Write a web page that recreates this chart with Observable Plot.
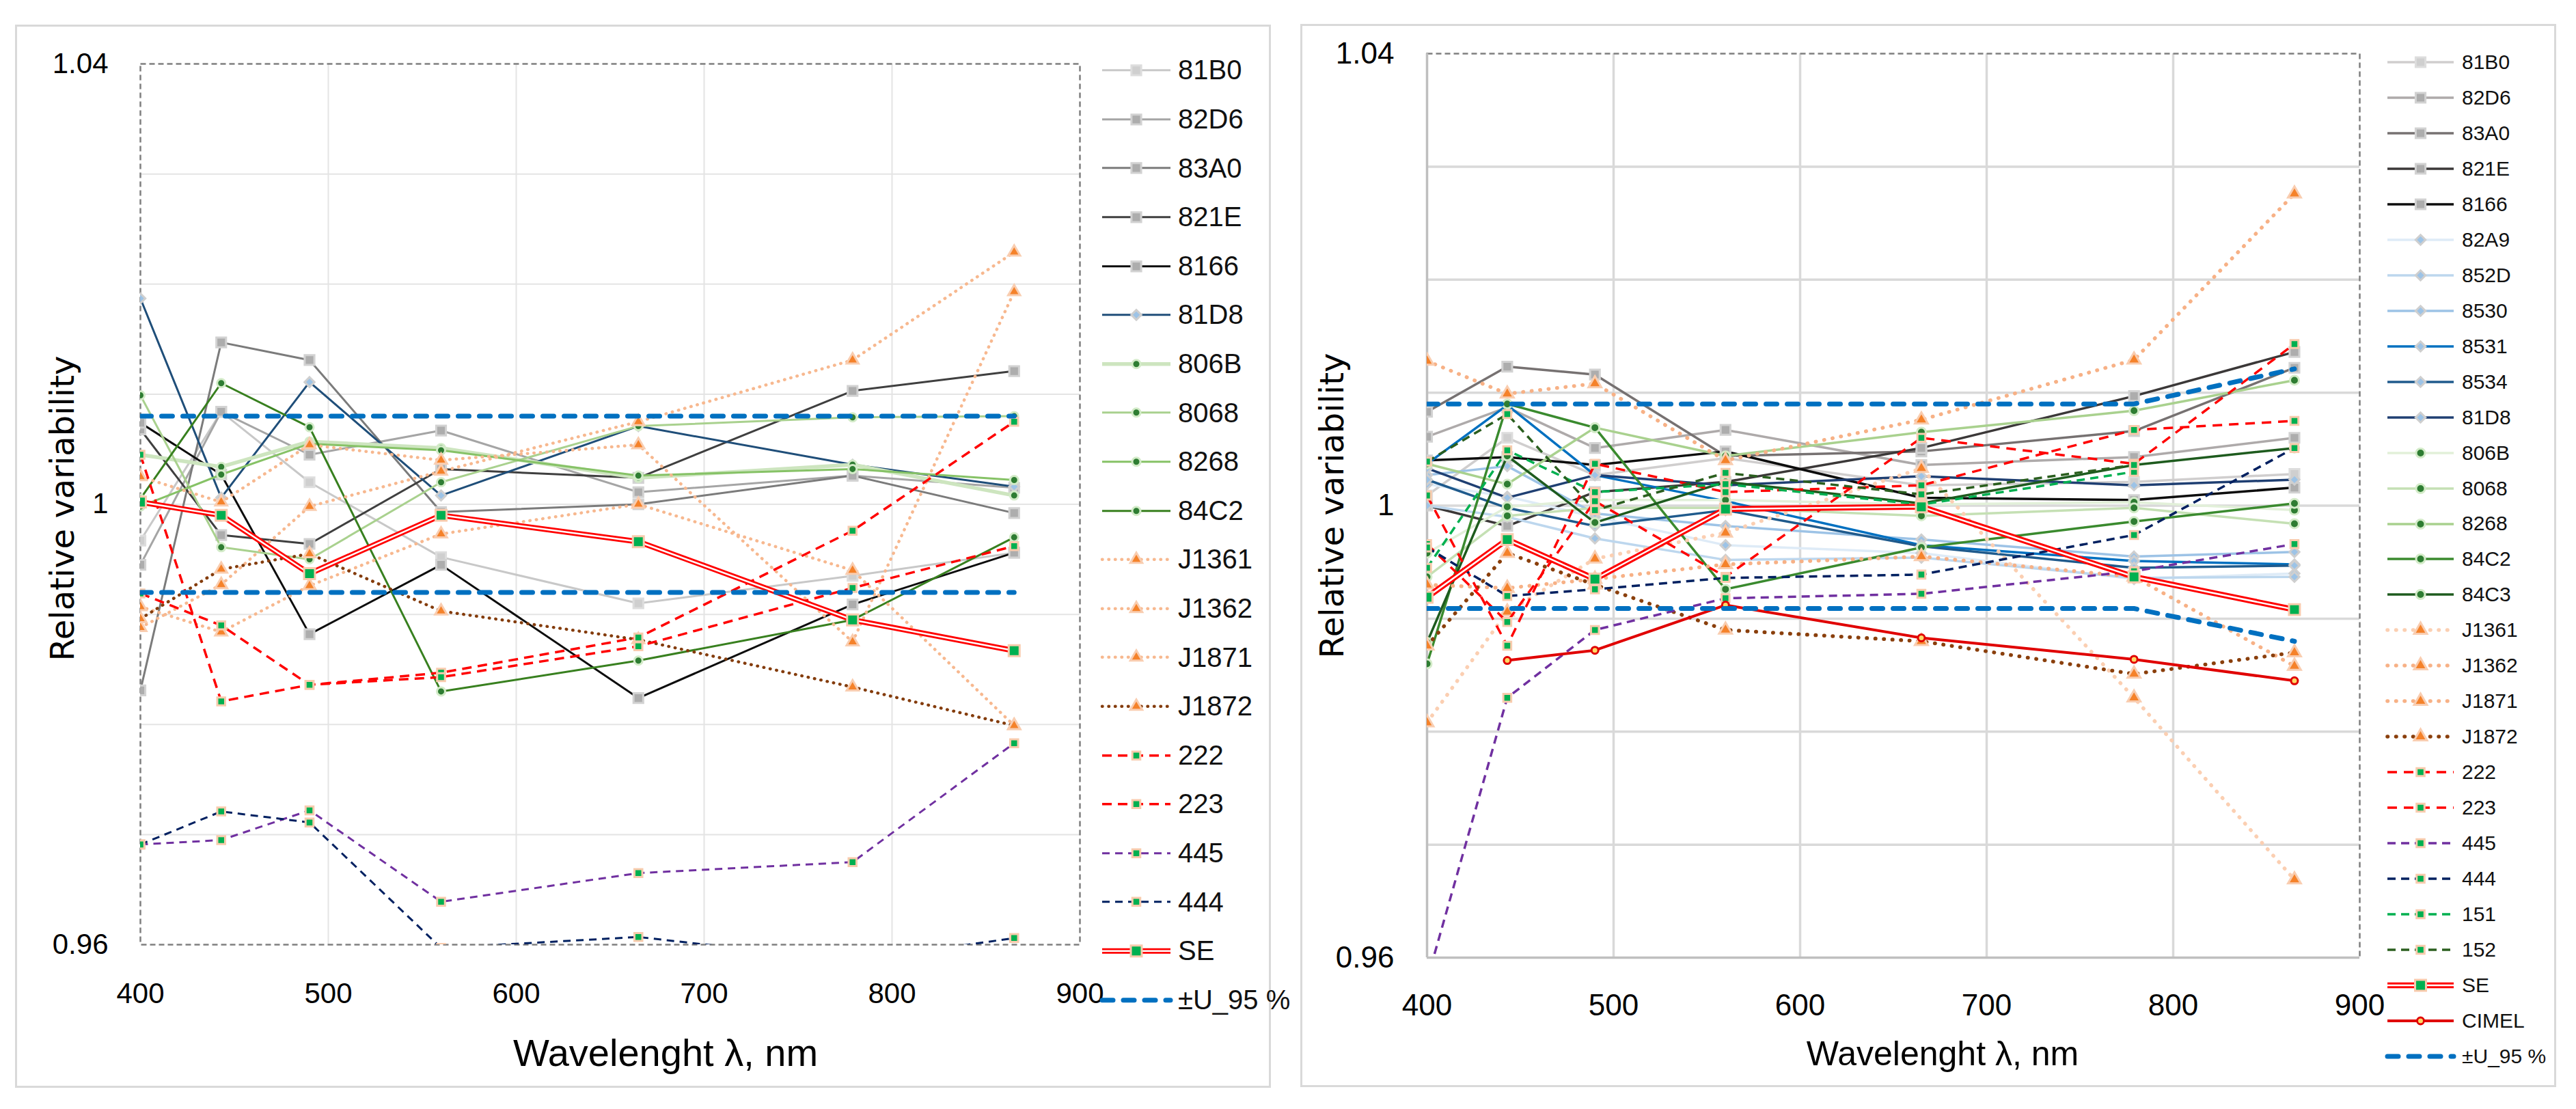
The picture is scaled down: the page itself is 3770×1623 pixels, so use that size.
<!DOCTYPE html>
<html>
<head>
<meta charset="utf-8">
<script src="https://cdn.jsdelivr.net/npm/d3@7"></script>
<script src="https://cdn.jsdelivr.net/npm/@observablehq/plot@0.6"></script>
<style>
  body { margin: 0; background: #fff; width: 3770px; height: 1623px; position: relative; overflow: hidden; }
  .panel { position: absolute; border: 3px solid #d9d9d9; box-sizing: border-box; }
  .chart { position: absolute; }
  .title { position: absolute; white-space: nowrap; color: #000; transform: translate(-50%, -50%); }
  .title.rot { transform: translate(-50%, -50%) rotate(-90deg); }
  .row { position: absolute; display: flex; align-items: center; white-space: nowrap; color: #111; }
</style>
</head>
<body>
<div class="panel" style="left:22px;top:36px;width:1838px;height:1556px"></div>
<div class="panel" style="left:1903px;top:35px;width:1838px;height:1556px"></div>
<div id="left" class="chart" style="left:23px;top:37px"></div>
<div id="right" class="chart" style="left:1904px;top:36px"></div>
<div class="title rot" style="left:91px;top:744px;font:48px 'DejaVu Sans'">Relative variability</div>
<div class="title" style="left:974px;top:1540px;font:56px 'Liberation Sans Narrow','Liberation Sans'">Wavelenght λ, nm</div>
<div class="title rot" style="left:1949px;top:740px;font:48px 'DejaVu Sans'">Relative variability</div>
<div class="title" style="left:2843px;top:1542px;font:50px 'Liberation Sans'">Wavelenght λ, nm</div>
<div id="legendLeft"></div>
<div id="legendRight"></div>
<script>
// wavelengths of the measurements and axis settings
const wavelengths = [400, 443, 490, 560, 665, 779, 865];
const xDomain = [400, 900];
const yDomain = [0.96, 1.04];
const xTicks = [400, 500, 600, 700, 800, 900];
const yTicks = [0.96, 1, 1.04];
const xGrid = [500, 600, 700, 800];
const yGrid = [0.97, 0.98, 0.99, 1, 1.01, 1.02, 1.03];

// left panel
const l81B0 = [0.9967, 1.0084, 1.0020, 0.9952, 0.9910, 0.9935, 0.9956];
const l82D6 = [0.9945, 1.0084, 1.0045, 1.0067, 1.0011, 1.0026, 1.0015];
const l83A0 = [0.9831, 1.0147, 1.0131, 0.9993, 1.0000, 1.0026, 0.9992];
const l821E = [1.0068, 0.9972, 0.9964, 1.0032, 1.0024, 1.0103, 1.0121];
const l8166 = [1.0074, 1.0027, 0.9882, 0.9945, 0.9824, 0.9909, 0.9956];
const l81D8 = [1.0187, 1.0006, 1.0111, 1.0008, 1.0071, 1.0036, 1.0016];
const l806B = [1.0045, 1.0034, 1.0057, 1.0051, 1.0024, 1.0036, 1.0008];
const l8068 = [1.0099, 0.9961, 0.9950, 1.0020, 1.0071, 1.0079, 1.0080];
const l8268 = [0.9998, 1.0027, 1.0055, 1.0049, 1.0026, 1.0032, 1.0022];
const l84C2 = [1.0005, 1.0110, 1.0070, 0.9830, 0.9858, 0.9895, 0.9970];
const lJ1361 = [0.9907, 0.9884, 0.9926, 0.9973, 1.0000, 0.9940, 0.9799];
const lJ1362 = [0.9888, 0.9927, 0.9998, 1.0030, 1.0075, 1.0131, 1.0229];
const lJ1871 = [1.0025, 1.0002, 1.0054, 1.0040, 1.0054, 0.9875, 1.0193];
const lJ1872 = [0.9896, 0.9941, 0.9955, 0.9903, 0.9877, 0.9834, 0.9799];
const l222 = [1.0045, 0.9821, 0.9836, 0.9847, 0.9879, 0.9976, 1.0075];
const l223 = [0.9919, 0.9890, 0.9836, 0.9843, 0.9871, 0.9924, 0.9962];
const l445 = [0.9691, 0.9695, 0.9722, 0.9639, 0.9665, 0.9675, 0.9783];
const l444 = [0.9691, 0.9721, 0.9711, 0.9597, 0.9607, 0.9585, 0.9606];
const lSE = [1.0002, 0.9990, 0.9937, 0.9990, 0.9966, 0.9895, 0.9867];
const lUup = [1.008, 1.008, 1.008, 1.008, 1.008, 1.008, 1.008];
const lUlo = [0.992, 0.992, 0.992, 0.992, 0.992, 0.992, 0.992];

// right panel
const r81B0 = [1.0009, 1.0060, 1.0027, 1.0042, 1.0018, 1.0021, 1.0028];
const r82D6 = [1.0061, 1.0087, 1.0051, 1.0067, 1.0036, 1.0043, 1.0060];
const r83A0 = [1.0083, 1.0123, 1.0116, 1.0044, 1.0048, 1.0066, 1.0122];
const r821E = [1.0000, 0.9982, 1.0012, 1.0021, 1.0051, 1.0097, 1.0136];
const r8166 = [1.0040, 1.0043, 1.0036, 1.0048, 1.0007, 1.0005, 1.0016];
const r82A9 = [1.0019, 1.0008, 0.9990, 0.9965, 0.9958, 0.9935, 0.9940];
const r852D = [1.0000, 0.9990, 0.9971, 0.9952, 0.9954, 0.9936, 0.9937];
const r8530 = [1.0027, 1.0035, 0.9993, 0.9982, 0.9970, 0.9955, 0.9959];
const r8531 = [1.0037, 1.0089, 1.0027, 1.0004, 0.9965, 0.9951, 0.9948];
const r8534 = [1.0023, 0.9998, 0.9982, 0.9996, 0.9964, 0.9945, 0.9947];
const r81D8 = [1.0033, 1.0007, 1.0027, 1.0018, 1.0026, 1.0018, 1.0023];
const r806B = [0.9958, 0.9999, 1.0005, 1.0005, 1.0001, 1.0003, 0.9996];
const r8068 = [0.9937, 0.9991, 0.9998, 0.9998, 0.9991, 0.9998, 0.9984];
const r8268 = [1.0037, 1.0019, 1.0069, 1.0044, 1.0065, 1.0084, 1.0111];
const r84C2 = [0.9860, 1.0090, 1.0069, 0.9926, 0.9963, 0.9986, 1.0002];
const r84C3 = [0.9879, 1.0044, 0.9985, 1.0021, 1.0002, 1.0036, 1.0051];
const rJ1361 = [0.9808, 0.9906, 0.9953, 0.9976, 1.0033, 0.9830, 0.9669];
const rJ1362 = [1.0128, 1.0099, 1.0108, 1.0040, 1.0076, 1.0129, 1.0276];
const rJ1871 = [0.9930, 0.9927, 0.9935, 0.9948, 0.9955, 0.9937, 0.9858];
const rJ1872 = [0.9876, 0.9958, 0.9930, 0.9890, 0.9880, 0.9851, 0.9870];
const r222 = [0.9966, 0.9897, 1.0004, 0.9937, 1.0060, 1.0037, 1.0143];
const r223 = [1.0009, 0.9876, 1.0037, 1.0012, 1.0018, 1.0067, 1.0075];
const r445 = [0.9580, 0.9830, 0.9890, 0.9918, 0.9922, 0.9942, 0.9966];
const r444 = [0.9963, 0.9920, 0.9926, 0.9936, 0.9939, 0.9974, 1.0051];
const r151 = [0.9945, 1.0049, 1.0012, 1.0019, 1.0001, 1.0030, null];
const r152 = [1.0039, 1.0081, 0.9996, 1.0029, 1.0010, 1.0036, null];
const rSE = [0.9919, 0.9970, 0.9935, 0.9997, 0.9999, 0.9937, 0.9908];
const rCIMEL = [null, 0.9863, 0.9872, 0.9912, 0.9883, 0.9864, 0.9845];
const rUup = [1.009, 1.009, 1.009, 1.009, 1.009, 1.009, 1.0121];
const rUlo = [0.9909, 0.9909, 0.9909, 0.9909, 0.9909, 0.9909, 0.9880];

const U = "±U_95 %";

const leftSeries = [
  ["81B0", [l81B0]], ["82D6", [l82D6]], ["83A0", [l83A0]], ["821E", [l821E]], ["8166", [l8166]],
  ["81D8", [l81D8]], ["806B", [l806B]], ["8068", [l8068]], ["8268", [l8268]], ["84C2", [l84C2]],
  ["J1361", [lJ1361]], ["J1362", [lJ1362]], ["J1871", [lJ1871]], ["J1872", [lJ1872]],
  ["222", [l222]], ["223", [l223]], ["445", [l445]], ["444", [l444]], ["SE", [lSE]], [U, [lUup, lUlo]]
];

const rightSeries = [
  ["81B0", [r81B0]], ["82D6", [r82D6]], ["83A0", [r83A0]], ["821E", [r821E]], ["8166", [r8166]],
  ["82A9", [r82A9]], ["852D", [r852D]], ["8530", [r8530]], ["8531", [r8531]], ["8534", [r8534]],
  ["81D8", [r81D8]], ["806B", [r806B]], ["8068", [r8068]], ["8268", [r8268]], ["84C2", [r84C2]],
  ["84C3", [r84C3]], ["J1361", [rJ1361]], ["J1362", [rJ1362]], ["J1871", [rJ1871]], ["J1872", [rJ1872]],
  ["222", [r222]], ["223", [r223]], ["445", [r445]], ["444", [r444]], ["151", [r151]], ["152", [r152]],
  ["SE", [rSE]], ["CIMEL", [rCIMEL]], [U, [rUup, rUlo]]
];

// marker presets
const grayMark = (r) => ({symbol: "square", r, fill: "#adadad", mark: "#d2d2d2", mw: 3});
const blueMark = (r) => ({symbol: "diamond2", r, fill: "#9dc3e6", mark: "#cfcfcf", mw: 3});
const greenMark = (r) => ({symbol: "circle", r, fill: "#2e7d32", mark: "#d3ebc8", mw: 3});
const triMark = (r) => ({symbol: "triangle", r, fill: "#f5822a", mark: "#f9cdb0", mw: 3});
const sqMark = (r) => ({symbol: "square", r, fill: "#00b050", mark: "#f8cbad", mw: 3});

const leftStyle = {
  "81B0": {stroke: "#c8c8c8", width: 3, ...grayMark(8), fill: "#cfcfcf", mark: "#dddddd"},
  "82D6": {stroke: "#a5a5a5", width: 3, ...grayMark(8)},
  "83A0": {stroke: "#7b7b7b", width: 3, ...grayMark(8)},
  "821E": {stroke: "#3f3f3f", width: 3, ...grayMark(8)},
  "8166": {stroke: "#0d0d0d", width: 3, ...grayMark(8)},
  "81D8": {stroke: "#1f4e79", width: 3, ...blueMark(6.5)},
  "806B": {stroke: "#cde5bf", width: 5.5, ...greenMark(6)},
  "8068": {stroke: "#a9d18e", width: 3, ...greenMark(6)},
  "8268": {stroke: "#86c266", width: 3, ...greenMark(6)},
  "84C2": {stroke: "#38801f", width: 3, ...greenMark(6)},
  "J1361": {stroke: "#f7b88f", width: 4.5, dash: "0.5 9", cap: "round", ...triMark(6.5)},
  "J1362": {stroke: "#f7b88f", width: 4.5, dash: "0.5 9", cap: "round", ...triMark(6.5)},
  "J1871": {stroke: "#f7b88f", width: 4.5, dash: "0.5 9", cap: "round", ...triMark(6.5)},
  "J1872": {stroke: "#843c0c", width: 4.5, dash: "0.5 9", cap: "round", ...triMark(6.5)},
  "222": {stroke: "#ff0000", width: 3.5, dash: "14 9", ...sqMark(6.5)},
  "223": {stroke: "#ff0000", width: 3.5, dash: "14 9", ...sqMark(6.5)},
  "445": {stroke: "#7030a0", width: 3, dash: "11 8", ...sqMark(6.5)},
  "444": {stroke: "#002060", width: 3, dash: "11 8", ...sqMark(6.5)},
  "SE": {stroke: "#ff0000", width: 8, inner: "#ffffff", innerWidth: 2.5, ...sqMark(9)},
  [U]: {stroke: "#0070c0", width: 7, dash: "16 15", cap: "round"}
};

const rightStyle = {
  "81B0": {stroke: "#d0cece", width: 3.5, ...grayMark(8), fill: "#cfcfcf", mark: "#dddddd"},
  "82D6": {stroke: "#aeaaaa", width: 3.5, ...grayMark(8)},
  "83A0": {stroke: "#767171", width: 3.5, ...grayMark(8)},
  "821E": {stroke: "#3b3838", width: 3.5, ...grayMark(8)},
  "8166": {stroke: "#0d0d0d", width: 3.5, ...grayMark(8)},
  "82A9": {stroke: "#deebf7", width: 3.5, ...blueMark(6.5)},
  "852D": {stroke: "#bdd7ee", width: 3.5, ...blueMark(6.5)},
  "8530": {stroke: "#9dc3e6", width: 3.5, ...blueMark(6.5)},
  "8531": {stroke: "#0070c0", width: 3.5, ...blueMark(6.5)},
  "8534": {stroke: "#1f5a8c", width: 3.5, ...blueMark(6.5)},
  "81D8": {stroke: "#1f3f72", width: 3.5, ...blueMark(6.5)},
  "806B": {stroke: "#e2f0d9", width: 3.5, ...greenMark(6.5)},
  "8068": {stroke: "#c5e0b4", width: 3.5, ...greenMark(6.5)},
  "8268": {stroke: "#a9d18e", width: 3.5, ...greenMark(6.5)},
  "84C2": {stroke: "#3a8a2e", width: 3.5, ...greenMark(6.5)},
  "84C3": {stroke: "#1e5b1e", width: 3.5, ...greenMark(6.5)},
  "J1361": {stroke: "#fbcfb2", width: 5.5, dash: "0.5 12", cap: "round", ...triMark(7)},
  "J1362": {stroke: "#f7b186", width: 5.5, dash: "0.5 12", cap: "round", ...triMark(7)},
  "J1871": {stroke: "#f7b186", width: 5.5, dash: "0.5 12", cap: "round", ...triMark(7)},
  "J1872": {stroke: "#8a3f0c", width: 5.5, dash: "0.5 12", cap: "round", ...triMark(7)},
  "222": {stroke: "#ff0000", width: 3.5, dash: "14 10", ...sqMark(6.5)},
  "223": {stroke: "#ff0000", width: 3.5, dash: "14 10", ...sqMark(6.5)},
  "445": {stroke: "#7030a0", width: 3.5, dash: "12 8", ...sqMark(6.5)},
  "444": {stroke: "#002060", width: 3.5, dash: "12 8", ...sqMark(6.5)},
  "151": {stroke: "#00b050", width: 3.5, dash: "12 8", ...sqMark(6.5)},
  "152": {stroke: "#2b5f1f", width: 3.5, dash: "12 8", ...sqMark(6.5)},
  "SE": {stroke: "#ff0000", width: 8.5, inner: "#ffffff", innerWidth: 2.5, ...sqMark(9)},
  "CIMEL": {stroke: "#e00000", width: 4, symbol: "circle", r: 5, fill: "#ffd966", mark: "#e00000", mw: 3},
  [U]: {stroke: "#0070c0", width: 7, dash: "16 15", cap: "round"}
};

function drawChart(target, cfg) {
  const marks = [
    Plot.gridY(yGrid, {stroke: cfg.grid, strokeOpacity: 1, strokeWidth: cfg.gridWidth}),
    Plot.gridX(xGrid, {stroke: cfg.grid, strokeOpacity: 1, strokeWidth: cfg.gridWidth}),
    Plot.frame({stroke: "#7f7f7f", strokeWidth: 2.5, strokeDasharray: "8 5"})
  ];
  if (cfg.solidAxes) {
    marks.push(Plot.ruleX([xDomain[0]], {stroke: "#bfbfbf", strokeWidth: 3.5}));
    marks.push(Plot.ruleY([yDomain[0]], {stroke: "#bfbfbf", strokeWidth: 3.5}));
  }
  for (const [name, lists] of cfg.series) {
    const st = cfg.style[name];
    for (const values of lists) {
      const rows = wavelengths.map((x, i) => ({x, y: values[i]})).filter(d => d.y != null);
      marks.push(Plot.line(rows, {
        x: "x", y: "y", stroke: st.stroke, strokeWidth: st.width,
        strokeDasharray: st.dash, strokeLinecap: st.cap || "butt", strokeLinejoin: "round", clip: true
      }));
      if (st.inner) {
        marks.push(Plot.line(rows, {x: "x", y: "y", stroke: st.inner, strokeWidth: st.innerWidth, clip: true}));
      }
      if (st.symbol) {
        marks.push(Plot.dot(rows, {
          x: "x", y: "y", symbol: st.symbol, r: st.r, fill: st.fill,
          stroke: st.mark, strokeWidth: st.mw, clip: true
        }));
      }
    }
  }
  marks.push(Plot.axisX(xTicks, {tickSize: 0, tickPadding: cfg.xPad, fontSize: cfg.tickFont, label: null, fill: "#000"}));
  marks.push(Plot.axisY(yTicks, {tickSize: 0, tickPadding: cfg.yPad, fontSize: cfg.tickFont, label: null, fill: "#000",
    tickFormat: d => String(+d.toFixed(2))}));

  const plot = Plot.plot({
    width: cfg.width, height: cfg.height,
    marginLeft: cfg.ml, marginRight: cfg.mr, marginTop: cfg.mt, marginBottom: cfg.mb,
    x: {domain: xDomain, axis: null},
    y: {domain: yDomain, axis: null},
    style: {fontFamily: "'Liberation Sans', Arial, sans-serif", background: "transparent", overflow: "visible"},
    marks
  });
  document.querySelector(target).append(plot);
}

const symbolTypes = {square: d3.symbolSquare, circle: d3.symbolCircle, triangle: d3.symbolTriangle, diamond2: d3.symbolDiamond2};

function drawLegend(target, cfg) {
  const box = document.querySelector(target);
  cfg.series.forEach(([name], i) => {
    const st = cfg.style[name];
    const row = document.createElement("div");
    row.className = "row";
    row.style.left = cfg.x + "px";
    row.style.top = (cfg.y0 + i * cfg.dy - cfg.dy / 2) + "px";
    row.style.height = cfg.dy + "px";
    row.style.font = cfg.font;
    const w = cfg.w, h = cfg.dy, cy = h / 2;
    const svg = d3.create("svg").attr("width", w).attr("height", h).style("overflow", "visible");
    svg.append("line").attr("x1", 0).attr("x2", w).attr("y1", cy).attr("y2", cy)
      .attr("stroke", st.stroke).attr("stroke-width", st.width)
      .attr("stroke-dasharray", st.dash || null).attr("stroke-linecap", st.cap || "butt");
    if (st.inner) {
      svg.append("line").attr("x1", 0).attr("x2", w).attr("y1", cy).attr("y2", cy)
        .attr("stroke", st.inner).attr("stroke-width", st.innerWidth);
    }
    if (st.symbol) {
      svg.append("path")
        .attr("d", d3.symbol(symbolTypes[st.symbol], Math.PI * st.r * st.r)())
        .attr("transform", `translate(${w / 2},${cy})`)
        .attr("fill", st.fill).attr("stroke", st.mark).attr("stroke-width", st.mw);
    }
    row.append(svg.node());
    const label = document.createElement("span");
    label.textContent = name;
    label.style.marginLeft = cfg.gap + "px";
    row.append(label);
    box.append(row);
  });
}

drawChart("#left", {
  series: leftSeries, style: leftStyle, width: 1620, height: 1553,
  ml: 182, mr: 63, mt: 56, mb: 208, xPad: 56, yPad: 47, tickFont: 42,
  grid: "#e4e4e4", gridWidth: 2, solidAxes: false
});
drawChart("#right", {
  series: rightSeries, style: rightStyle, width: 1596, height: 1553,
  ml: 184, mr: 47, mt: 42, mb: 188, xPad: 53, yPad: 48, tickFont: 44,
  grid: "#d9d9d9", gridWidth: 3.5, solidAxes: true
});
drawLegend("#legendLeft", {
  series: leftSeries, style: leftStyle, x: 1613, y0: 103, dy: 71.6, w: 100, gap: 11,
  font: "40px 'Liberation Sans Narrow', 'Liberation Sans', sans-serif"
});
drawLegend("#legendRight", {
  series: rightSeries, style: rightStyle, x: 3494, y0: 91, dy: 51.96, w: 97, gap: 12,
  font: "30px 'Liberation Sans', sans-serif"
});
</script>
</body>
</html>
